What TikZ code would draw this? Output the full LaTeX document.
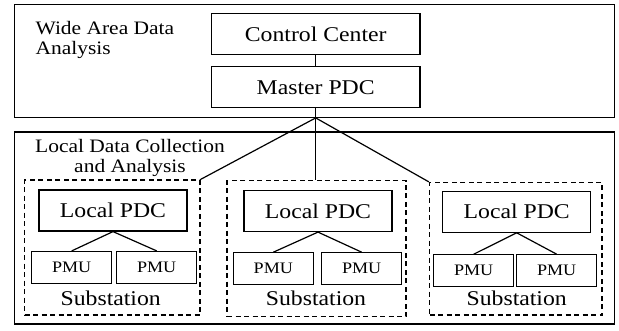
\documentclass[tikz,border=0pt]{standalone}
\usepackage{fontspec}
\setmainfont{Liberation Serif}[FakeStretch=1.13]
\begin{document}
\begin{tikzpicture}[x=1pt,y=-1pt,line width=1.2pt,
  frame/.style={draw,inner sep=0pt},
  bigbox/.style={draw,inner sep=0pt,minimum width=208.5pt,minimum height=41pt,font=\fontsize{21}{24}\selectfont},
  pdcbox/.style={draw,inner sep=0pt,minimum width=148pt,minimum height=41pt,font=\fontsize{21}{24}\selectfont},
  pmubox/.style={draw,inner sep=0pt,minimum width=80pt,minimum height=32pt,font=\fontsize{16}{18}\selectfont},
  subbox/.style={draw,inner sep=0pt,dash pattern=on 5pt off 3.5pt},
  sublabel/.style={anchor=base,inner sep=0pt,font=\fontsize{21}{24}\selectfont},
  grouplabel/.style={inner sep=0pt,font=\fontsize{19}{20.5}\selectfont}]
\useasboundingbox (0,0) rectangle (619,330);
% outer frames
\node[frame,minimum width=600pt,minimum height=112.8pt] (wide) at (314.5,60.9) {};
\node[frame,minimum width=600pt,minimum height=192pt] (local) at (314.5,228) {};
\node[grouplabel,anchor=north west,align=left] (widelbl) at (35,20.3) {Wide Area Data\\Analysis};
\node[grouplabel,anchor=north,align=center] (locallbl) at (130,138.5) {Local Data Collection\\and Analysis};
% top level
\node[bigbox] (cc) at (315.7,34) {Control Center};
\node[bigbox] (mpdc) at (315.7,87.3) {Master PDC};
\coordinate (J) at (mpdc.south |- wide.south);
% substations
\node[subbox,minimum width=175.5pt,minimum height=135pt] (sub1) at (112.25,247.5) {};
\node[subbox,minimum width=179pt,minimum height=136pt] (sub2) at (316.5,248.5) {};
\node[subbox,minimum width=172.5pt,minimum height=132.5pt] (sub3) at (515.75,248.75) {};
\node[pdcbox] (pdc1) at (113,210.5) {Local PDC};
\node[pdcbox] (pdc2) at (318,211) {Local PDC};
\node[pdcbox] (pdc3) at (516.7,211.7) {Local PDC};
\node[pmubox] (pmu1a) at (71.7,267.5) {PMU};
\node[pmubox] (pmu1b) at (156.7,267.5) {PMU};
\node[pmubox] (pmu2a) at (273.3,268.8) {PMU};
\node[pmubox] (pmu2b) at (361.7,268.8) {PMU};
\node[pmubox] (pmu3a) at (473.7,270.8) {PMU};
\node[pmubox] (pmu3b) at (556.7,270.8) {PMU};
\node[sublabel] (st1) at (110.7,305) {Substation};
\node[sublabel] (st2) at (316,305) {Substation};
\node[sublabel] (st3) at (516.7,305) {Substation};
% connectors
\draw (cc) -- (mpdc);
\draw (mpdc) -- (J);
\draw (J) -- (sub1.north east);
\draw (J) -- (J |- sub2.north);
\draw (J) -- (sub3.north west);
\foreach \i in {1,2,3} {
  \draw (pdc\i.south) -- (pmu\i a.north);
  \draw (pdc\i.south) -- (pmu\i b.north);
}
\end{tikzpicture}
\end{document}
